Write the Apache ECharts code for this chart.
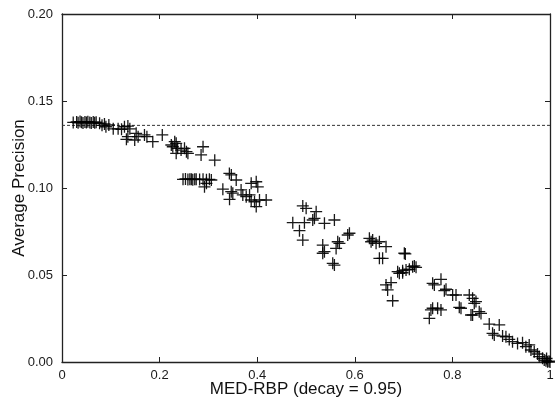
<!DOCTYPE html>
<html><head><meta charset="utf-8">
<script src="https://cdn.jsdelivr.net/npm/echarts@6/dist/echarts.min.js"></script>
<style>html,body{margin:0;padding:0;background:#fff}#c{width:555px;height:398px}</style>
</head><body><div id="c"></div>
<script>
// MED-RBP (x) values
var medRbp = [
0.023,0.030,0.033,0.037,0.040,0.043,0.047,0.050,0.053,0.057,0.060,0.064,0.067,0.070,
0.077,0.082,0.087,0.090,0.096,0.105,0.115,0.122,0.128,0.135,0.139,0.135,0.132,
0.152,0.156,0.149,0.169,0.174,0.186,0.2055,
0.231,0.234,0.227,0.237,0.224,0.244,0.234,0.255,0.258,0.251,
0.289,0.285,0.313,
0.248,0.253,0.258,0.262,0.265,0.268,0.272,0.275,0.282,0.289,0.296,0.302,0.306,0.296,0.292,
0.343,0.347,0.357,
0.3296,0.3468,0.3433,0.350,0.367,0.3705,0.3775,0.3843,0.3877,0.3945,0.4047,0.4184,0.398,0.3877,0.398,0.4012,
0.4934,0.5003,0.5208,0.5173,0.5138,0.5378,0.5582,0.4729,0.4968,0.4866,0.4934,
0.5343,0.5343,0.5378,0.565,0.5685,0.5617,0.5855,0.589,0.5582,0.5548,
0.6299,0.6366,0.6436,0.6334,0.6504,0.664,0.6504,0.657,0.7015,0.6878,0.698,0.705,
0.7036,0.6913,0.698,0.7118,0.7185,0.722,0.7255,0.664,0.6743,0.6673,0.6776,
0.7595,0.7766,0.763,0.7869,0.7835,0.8005,0.8074,0.8141,0.8176,0.8346,0.8414,0.8483,0.855,0.8381,0.7595,0.7697,0.7766,0.7527,0.756,
0.8448,0.8414,0.8586,0.8755,0.8960,0.8823,0.8858,0.9028,0.9097,0.9165,0.9232,0.9335,0.9437,0.9506,0.9574,0.9609,0.9677,0.9744,0.9779,0.9847,0.9882,0.9917,0.995,0.998,1.0,0.993
];
// Average Precision (y) values
var avgPrecision = [
0.1377,0.1380,0.1375,0.1382,0.1378,0.1374,0.1380,0.1376,0.1381,0.1377,0.1373,0.1379,0.1375,0.1378,
0.1372,0.1360,0.1368,0.1352,0.1362,0.1340,0.1340,0.1337,0.1352,0.1356,0.1340,0.1295,0.1280,
0.1314,0.1295,0.1276,0.1305,0.1295,0.1266,0.1305,
0.1266,0.1257,0.1237,0.1228,0.1247,0.1218,0.1199,0.1209,0.1199,0.1228,
0.1237,0.1190,0.1160,
0.1050,0.1052,0.1049,0.1051,0.1050,0.1048,0.1051,0.1050,0.1049,0.1051,0.1047,0.1050,0.1046,0.1027,0.1007,
0.1084,0.1075,0.1046,
0.0993,0.0979,0.0935,0.0970,0.0989,0.0960,0.0950,0.0960,0.0931,0.0921,0.0931,0.0931,0.0893,0.1027,0.1036,0.1007,
0.0897,0.0883,0.0864,0.0826,0.0816,0.0797,0.0816,0.0801,0.0801,0.0755,0.0701,
0.0672,0.0625,0.0634,0.0691,0.0682,0.0653,0.0730,0.0740,0.0557,0.0567,
0.0711,0.0701,0.0682,0.0691,0.0691,0.0663,0.0596,0.0596,0.0625,0.0519,0.0525,0.0529,
0.0621,0.0510,0.0513,0.0533,0.0548,0.0552,0.0544,0.0443,0.0456,0.0414,0.0352,
0.0452,0.0475,0.0443,0.0418,0.0410,0.0385,0.0385,0.0314,0.0309,0.0385,0.0366,0.0347,0.0289,0.0270,0.0309,0.0309,0.0299,0.0251,0.0299,
0.0337,0.0270,0.0279,0.0218,0.0213,0.0165,0.0155,0.0149,0.0145,0.0130,0.0117,0.0107,0.0111,0.0088,0.0098,0.0069,0.0059,0.0046,0.0031,0.0021,0.0011,0.0007,0.0002,0.0005,0.0000,0.0020
];
var referenceAP = 0.136;
var xTicks = [0, 0.2, 0.4, 0.6, 0.8, 1];
var yTicks = [0, 0.05, 0.10, 0.15, 0.20];

var pts = medRbp.map(function(x, i){ return [x, avgPrecision[i]]; });
var font = 'Liberation Sans, Arial, Helvetica, sans-serif';
var axisCol = '#222';
function xAxisBase(pos, show){
  return {type:'value', position:pos, min:0, max:1, interval:0.2,
    axisLine:{show:true, onZero:false, lineStyle:{color:axisCol, width:1.3}},
    axisTick:{show:true, inside:true, length:5, lineStyle:{color:axisCol}},
    axisLabel:{show:show, color:'#1a1a1a', fontSize:13, fontFamily:font, margin:7,
      formatter:function(v){ return v===0?'0':(v===1?'1':String(Math.round(v*10)/10)); }},
    splitLine:{show:false}};
}
function yAxisBase(pos, show){
  return {type:'value', position:pos, min:0, max:0.2, interval:0.05,
    axisLine:{show:true, onZero:false, lineStyle:{color:axisCol, width:1.3}},
    axisTick:{show:true, inside:true, length:5, lineStyle:{color:axisCol}},
    axisLabel:{show:show, color:'#1a1a1a', fontSize:13, fontFamily:font, margin:9,
      formatter:function(v){ return v.toFixed(2); }},
    splitLine:{show:false}};
}
var xa0 = xAxisBase('bottom', true);
xa0.name = 'MED-RBP (decay = 0.95)'; xa0.nameLocation='middle'; xa0.nameGap=19;
xa0.nameMoveOverlap = false;
xa0.nameTextStyle = {fontSize:17, fontFamily:font, color:'#111'};
var ya0 = yAxisBase('left', true);
ya0.name = 'Average Precision'; ya0.nameLocation='middle'; ya0.nameGap=34;
ya0.nameMoveOverlap = false;
ya0.nameTextStyle = {fontSize:17, fontFamily:font, color:'#111'};

var chart = echarts.init(document.getElementById('c'), null, {renderer:'canvas'});
chart.setOption({
  animation:false,
  backgroundColor:'#fff',
  grid:{left:62, right:5, top:14, bottom:36, containLabel:false, outerBoundsMode:'none'},
  xAxis:[xa0, xAxisBase('top', false)],
  yAxis:[ya0, yAxisBase('right', false)],
  series:[
    {type:'line', xAxisIndex:0, yAxisIndex:0, data:[[0, referenceAP],[1, referenceAP]],
     symbol:'none', lineStyle:{color:'#333', width:1, type:[3,2]}, z:1},
    {type:'scatter', xAxisIndex:0, yAxisIndex:0, data:pts,
     symbol:'path://M0,6L12,6M6,0L6,12', symbolSize:12,
     itemStyle:{color:'none', borderColor:'#000', borderWidth:1.3, opacity:0.9}, z:2}
  ]
});
</script></body></html>
